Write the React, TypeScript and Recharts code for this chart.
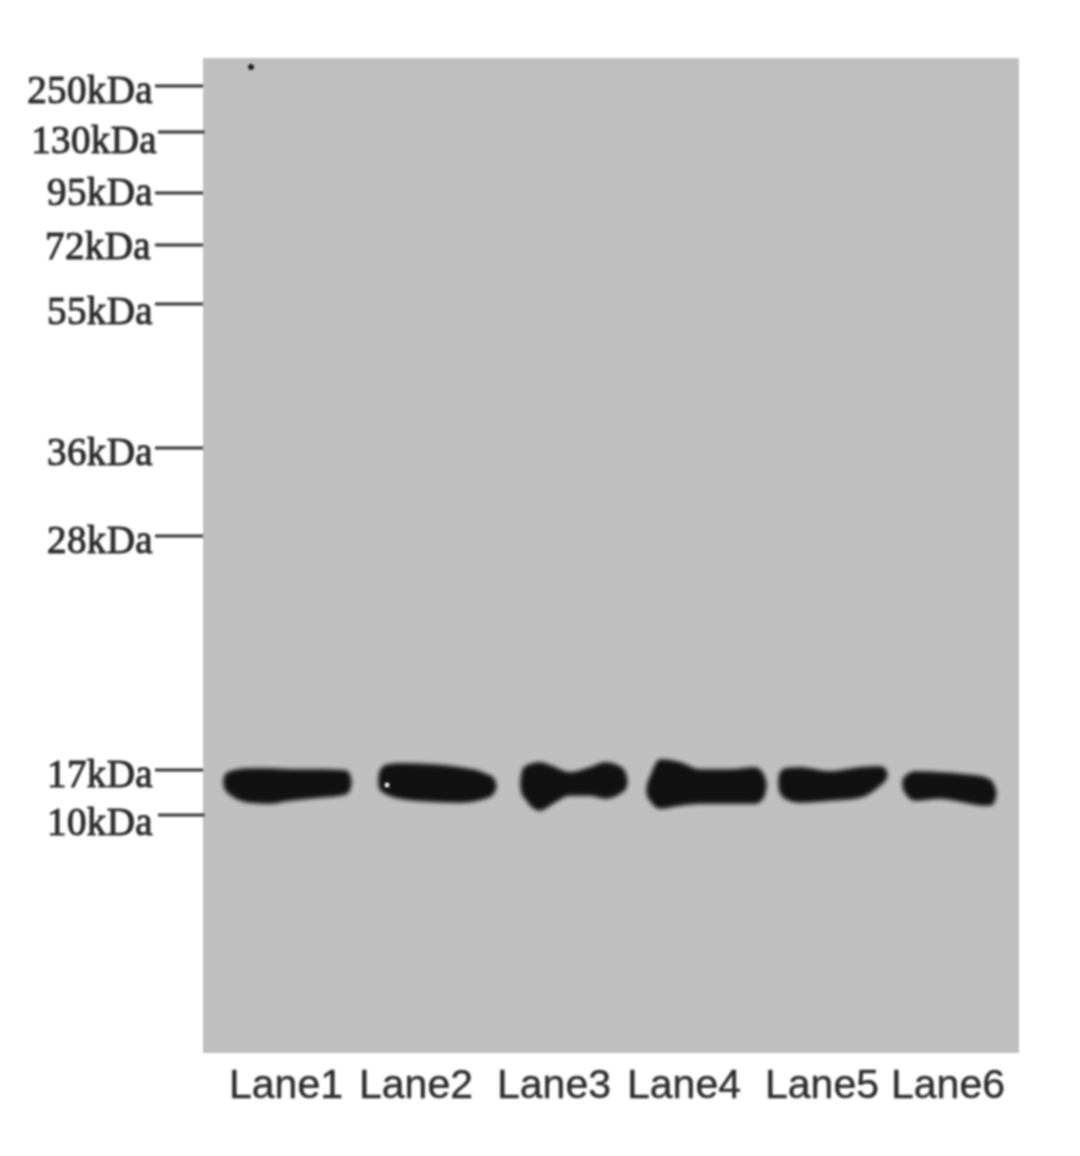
import { ComposedChart, Area, Scatter, XAxis, YAxis, CartesianGrid } from 'recharts';

const markerLabels = ['250kDa', '130kDa', '95kDa', '72kDa', '55kDa', '36kDa', '28kDa', '17kDa', '10kDa'];
const markerMigration = [28, 74, 135, 187, 246, 390, 478, 712, 757];

const laneLabels = ['Lane1', 'Lane2', 'Lane3', 'Lane4', 'Lane5', 'Lane6'];
const laneCentres = [83, 213, 351, 481, 619, 745];

// band outlines: position across the gel, upper edge, lower edge
const lane1X = [20, 21, 27, 47, 67, 87, 117, 142, 147, 149];
const lane1Top = [724, 718, 713, 710, 710, 711, 711, 712, 716, 724];
const lane1Bottom = [724, 730, 737, 745, 746, 743, 740, 737, 733, 724];

const lane2X = [175, 176, 182, 197, 227, 257, 282, 291, 294];
const lane2Top = [723, 714, 707, 705, 706, 709, 715, 720, 728];
const lane2Bottom = [723, 731, 736, 741, 744, 745, 741, 736, 728];

const lane3X = [317, 318, 322, 337, 350, 367, 387, 402, 417, 423, 425];
const lane3Top = [726, 716, 708, 704, 708, 714, 709, 704, 708, 715, 724];
const lane3Bottom = [726, 734, 741, 753, 746, 738, 738, 741, 736, 731, 724];

const lane4X = [443, 444, 447, 457, 477, 497, 527, 552, 561, 564];
const lane4Top = [732, 726, 718, 701, 704, 711, 711, 709, 716, 727];
const lane4Bottom = [732, 738, 743, 751, 748, 746, 746, 746, 740, 727];

const lane5X = [575, 576, 582, 597, 627, 657, 677, 683, 685];
const lane5Top = [725, 716, 710, 709, 713, 709, 708, 711, 717];
const lane5Bottom = [725, 733, 741, 745, 743, 740, 728, 722, 717];

const lane6X = [699, 700, 712, 737, 762, 782, 790, 794];
const lane6Top = [725, 720, 713, 714, 716, 719, 724, 735];
const lane6Bottom = [725, 732, 743, 741, 745, 748, 747, 735];

const specks = [{ x: 48, y: 9 }];
const glints = [{ x: 184, y: 727 }];

const outlines = [
  [lane1X, lane1Top, lane1Bottom],
  [lane2X, lane2Top, lane2Bottom],
  [lane3X, lane3Top, lane3Bottom],
  [lane4X, lane4Top, lane4Bottom],
  [lane5X, lane5Top, lane5Bottom],
  [lane6X, lane6Top, lane6Bottom],
];

const bands = outlines.map(([xs, tops, bottoms]) =>
  xs.map((x, i) => ({ x, edge: [tops[i], bottoms[i]] })),
);

// the labels sit a little unevenly against their tick marks
const labelNudge: Record<string, [number, number, number]> = {
  '250kDa': [0, 5, 0],
  '130kDa': [4, 9, 3],
  '95kDa': [0, 0, 0],
  '72kDa': [-2, 2, 0],
  '55kDa': [0, 8, 0],
  '36kDa': [0, 5, 0],
  '28kDa': [0, 5, 0],
  '17kDa': [0, 5, 0],
  '10kDa': [0, 8, 3],
};

function MarkerTick({ x, y, payload }: any) {
  const label = markerLabels[markerMigration.indexOf(payload.value)];
  const [dx, dy, lineDx] = labelNudge[label];
  return (
    <g>
      <line x1={x - 48 + lineDx} x2={x + lineDx / 2} y1={y} y2={y} stroke="#333" strokeWidth={3} />
      <text
        x={x - 50 + dx}
        y={y + dy}
        dy={12}
        textAnchor="end"
        fontFamily="'Liberation Serif', serif"
        fontSize={39}
        fill="#2b2b2b"
        stroke="#2b2b2b"
        strokeWidth={1}
        letterSpacing={0.4}
      >
        {label}
      </text>
    </g>
  );
}

function LaneTick({ x, y, payload }: any) {
  const label = laneLabels[laneCentres.indexOf(payload.value)];
  return (
    <text
      x={x}
      y={y}
      dy={43}
      textAnchor="middle"
      fontFamily="'Liberation Sans', sans-serif"
      fontSize={41}
      fill="#2b2b2b"
      stroke="#2b2b2b"
      strokeWidth={0.4}
    >
      {label}
    </text>
  );
}

export default function App() {
  return (
    <div style={{ position: 'absolute', left: 0, top: 0, width: 1080, height: 1156, filter: 'blur(1px)' }}>
      <style>{`.recharts-area-area { filter: blur(2px) drop-shadow(0 0 3px #dcdcdc); }`}</style>
      <ComposedChart width={1080} height={1156} margin={{ top: 58, right: 61, bottom: 0, left: 0 }}>
        <CartesianGrid horizontal={false} vertical={false} fill="#bfbfbf" />
        <XAxis
          type="number"
          dataKey="x"
          domain={[0, 816]}
          ticks={laneCentres}
          interval={0}
          height={103}
          axisLine={false}
          tickLine={false}
          tickSize={0}
          tick={<LaneTick />}
        />
        <YAxis
          type="number"
          reversed
          domain={[0, 995]}
          ticks={markerMigration}
          interval={0}
          width={203}
          axisLine={false}
          tickLine={false}
          tickSize={0}
          tickMargin={0}
          tick={<MarkerTick />}
        />
        {bands.map((band, i) => (
          <Area
            key={laneLabels[i]}
            data={band}
            dataKey="edge"
            type="monotone"
            fill="#111"
            fillOpacity={1}
            stroke="none"
            dot={false}
            activeDot={false}
            isAnimationActive={false}
          />
        ))}
        <Scatter data={specks} dataKey="y" fill="#333" shape={(p: any) => <circle cx={p.cx} cy={p.cy} r={3} fill="#222" />} isAnimationActive={false} />
        <Scatter data={glints} dataKey="y" fill="#ddd" shape={(p: any) => <circle cx={p.cx} cy={p.cy} r={2.5} fill="#eee" />} isAnimationActive={false} />
      </ComposedChart>
    </div>
  );
}
